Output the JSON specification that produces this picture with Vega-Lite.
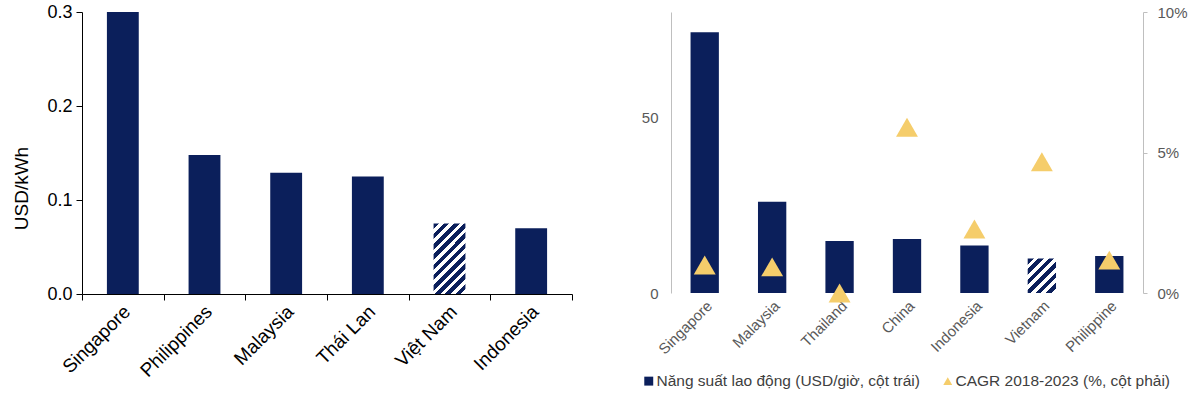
{
  "$schema": "https://vega.github.io/schema/vega-lite/v6.json",
  "background": "white",
  "padding": {"left": 12, "top": 3, "right": 5, "bottom": 0},
  "config": {"font": "Liberation Sans", "view": {"stroke": null}},
  "bounds": "flush",
  "spacing": 99,
  "resolve": {"legend": {"color": "independent"}, "scale": {"color": "independent"}},
  "hconcat": [
    {
      "width": 490,
      "height": 282,
      "data": {
        "values": [
          {"country": "Singapore", "price": 0.3},
          {"country": "Philippines", "price": 0.148},
          {"country": "Malaysia", "price": 0.129},
          {"country": "Thái Lan", "price": 0.125},
          {"country": "Việt Nam", "price": 0.075},
          {"country": "Indonesia", "price": 0.07}
        ]
      },
      "encoding": {
        "y": {
          "field": "price",
          "type": "quantitative",
          "scale": {"domain": [0, 0.3]},
          "axis": {
            "values": [0, 0.1, 0.2, 0.3],
            "format": ".1f",
            "grid": false,
            "domainColor": "black",
            "tickColor": "black",
            "tickSize": 6,
            "labelColor": "black",
            "labelFontSize": 18,
            "labelPadding": 4,
            "title": "USD/kWh",
            "titleFontSize": 19,
            "titleFontWeight": "normal",
            "titleColor": "black",
            "titlePadding": 15,
            "titleY": 176
          }
        }
      },
      "layer": [
        {
          "transform": [{"filter": "datum.country != 'Việt Nam'"}],
          "mark": {"type": "bar", "color": "#0B1F5B"},
          "encoding": {
            "x": {
              "field": "country",
              "type": "nominal",
              "sort": null,
              "scale": {
                "domain": ["Singapore", "Philippines", "Malaysia", "Thái Lan", "Việt Nam", "Indonesia"],
                "paddingInner": 0.61,
                "paddingOuter": 0.305
              },
              "axis": {
                "orient": "bottom",
                "title": null,
                "domain": false,
                "ticks": false,
                "labelAngle": -45,
                "labelColor": "black",
                "labelFontSize": 19,
                "labelPadding": 8,
                "labelOffset": -2
              }
            }
          }
        },
        {
          "transform": [{"filter": "datum.country == 'Việt Nam'"}],
          "encoding": {
            "x": {
              "field": "country",
              "type": "nominal",
              "sort": null,
              "scale": {
                "domain": ["Singapore", "Philippines", "Malaysia", "Thái Lan", "Việt Nam", "Indonesia"],
                "paddingInner": 0.61,
                "paddingOuter": 0.305
              },
              "axis": null
            }
          },
          "mark": {
            "type": "bar",
            "color": {
              "gradient": "linear",
              "x1": 0, "y1": 0, "x2": 0.5455, "y2": 1.2056,
              "stops": [
                {"offset": 0, "color": "#0B1F5B"}, {"offset": 0.055, "color": "#0B1F5B"},
                {"offset": 0.055, "color": "#ffffff"}, {"offset": 0.1, "color": "#ffffff"},
                {"offset": 0.1, "color": "#0B1F5B"}, {"offset": 0.155, "color": "#0B1F5B"},
                {"offset": 0.155, "color": "#ffffff"}, {"offset": 0.2, "color": "#ffffff"},
                {"offset": 0.2, "color": "#0B1F5B"}, {"offset": 0.255, "color": "#0B1F5B"},
                {"offset": 0.255, "color": "#ffffff"}, {"offset": 0.3, "color": "#ffffff"},
                {"offset": 0.3, "color": "#0B1F5B"}, {"offset": 0.355, "color": "#0B1F5B"},
                {"offset": 0.355, "color": "#ffffff"}, {"offset": 0.4, "color": "#ffffff"},
                {"offset": 0.4, "color": "#0B1F5B"}, {"offset": 0.455, "color": "#0B1F5B"},
                {"offset": 0.455, "color": "#ffffff"}, {"offset": 0.5, "color": "#ffffff"},
                {"offset": 0.5, "color": "#0B1F5B"}, {"offset": 0.555, "color": "#0B1F5B"},
                {"offset": 0.555, "color": "#ffffff"}, {"offset": 0.6, "color": "#ffffff"},
                {"offset": 0.6, "color": "#0B1F5B"}, {"offset": 0.655, "color": "#0B1F5B"},
                {"offset": 0.655, "color": "#ffffff"}, {"offset": 0.7, "color": "#ffffff"},
                {"offset": 0.7, "color": "#0B1F5B"}, {"offset": 0.755, "color": "#0B1F5B"},
                {"offset": 0.755, "color": "#ffffff"}, {"offset": 0.8, "color": "#ffffff"},
                {"offset": 0.8, "color": "#0B1F5B"}, {"offset": 0.855, "color": "#0B1F5B"},
                {"offset": 0.855, "color": "#ffffff"}, {"offset": 0.9, "color": "#ffffff"},
                {"offset": 0.9, "color": "#0B1F5B"}, {"offset": 0.955, "color": "#0B1F5B"},
                {"offset": 0.955, "color": "#ffffff"}, {"offset": 1, "color": "#ffffff"}
              ]
            }
          }
        },
        {
          "mark": {"type": "bar", "opacity": 0},
          "encoding": {
            "x": {
              "field": "country",
              "type": "nominal",
              "sort": null,
              "scale": {
                "domain": ["Singapore", "Philippines", "Malaysia", "Thái Lan", "Việt Nam", "Indonesia"],
                "paddingInner": 0,
                "paddingOuter": 0
              },
              "axis": {
                "orient": "bottom",
                "title": null,
                "domainColor": "black",
                "tickColor": "black",
                "tickSize": 6,
                "tickBand": "extent",
                "labels": false
              }
            }
          }
        }
      ],
      "resolve": {"scale": {"x": "independent"}, "axis": {"x": "independent"}}
    },
    {
      "width": 472,
      "height": 281,
      "data": {
        "values": [
          {"country": "Singapore", "prod": 74.2, "cagr": 1.0},
          {"country": "Malaysia", "prod": 26, "cagr": 0.93},
          {"country": "Thailand", "prod": 14.8, "cagr": 0.0},
          {"country": "China", "prod": 15.4, "cagr": 5.9},
          {"country": "Indonesia", "prod": 13.5, "cagr": 2.28},
          {"country": "Vietnam", "prod": 9.8, "cagr": 4.67},
          {"country": "Philippine", "prod": 10.5, "cagr": 1.17}
        ]
      },
      "encoding": {
        "x": {
          "field": "country",
          "type": "nominal",
          "sort": null,
          "scale": {
            "domain": ["Singapore", "Malaysia", "Thailand", "China", "Indonesia", "Vietnam", "Philippine"],
            "paddingInner": 0.58,
            "paddingOuter": 0.29
          },
          "axis": {
            "title": null,
            "domain": false,
            "ticks": false,
            "labelAngle": -45,
            "labelColor": "#595959",
            "labelFontSize": 15,
            "labelPadding": 5
          }
        }
      },
      "layer": [
        {
          "encoding": {
            "y": {
              "field": "prod",
              "type": "quantitative",
              "scale": {"domain": [0, 80]},
              "axis": {
                "orient": "left",
                "values": [0, 50],
                "grid": false,
                "domainColor": "#bfbfbf",
                "ticks": false,
                "labelColor": "#595959",
                "labelFontSize": 15,
                "labelPadding": 13,
                "title": null
              }
            }
          },
          "layer": [
            {
              "transform": [{"filter": "datum.country != 'Vietnam'"}],
              "mark": {"type": "bar"},
              "encoding": {
                "color": {
                  "datum": "Năng suất lao động (USD/giờ, cột trái)",
                  "scale": {
                    "domain": ["Năng suất lao động (USD/giờ, cột trái)", "CAGR 2018-2023 (%, cột phải)"],
                    "range": ["#0B1F5B", "#F5CD6B"]
                  },
                  "legend": {
                    "orient": "none",
                    "legendX": -30,
                    "legendY": 361,
                    "direction": "horizontal",
                    "title": null,
                    "labelFontSize": 15.5,
                    "labelColor": "#404040",
                    "labelLimit": 400,
                    "symbolSize": 80,
                    "symbolOpacity": 1,
                    "symbolStrokeWidth": 0,
                    "columnPadding": 20,
                    "labelOffset": 0,
                    "encode": {
                      "symbols": {
                        "update": {
                          "shape": {"signal": "indexof(datum.label, 'CAGR') >= 0 ? 'triangle-up' : 'square'"}
                        }
                      }
                    }
                  }
                }
              }
            },
            {
              "transform": [{"filter": "datum.country == 'Vietnam'"}],
              "mark": {
                "type": "bar",
                "color": {
                  "gradient": "linear",
                  "x1": 0, "y1": 0, "x2": 0.8942, "y2": 1.0869,
                  "stops": [
                    {"offset": 0, "color": "#0B1F5B"}, {"offset": 0.0917, "color": "#0B1F5B"},
                    {"offset": 0.0917, "color": "#ffffff"}, {"offset": 0.1667, "color": "#ffffff"},
                    {"offset": 0.1667, "color": "#0B1F5B"}, {"offset": 0.2583, "color": "#0B1F5B"},
                    {"offset": 0.2583, "color": "#ffffff"}, {"offset": 0.3333, "color": "#ffffff"},
                    {"offset": 0.3333, "color": "#0B1F5B"}, {"offset": 0.425, "color": "#0B1F5B"},
                    {"offset": 0.425, "color": "#ffffff"}, {"offset": 0.5, "color": "#ffffff"},
                    {"offset": 0.5, "color": "#0B1F5B"}, {"offset": 0.5917, "color": "#0B1F5B"},
                    {"offset": 0.5917, "color": "#ffffff"}, {"offset": 0.6667, "color": "#ffffff"},
                    {"offset": 0.6667, "color": "#0B1F5B"}, {"offset": 0.7583, "color": "#0B1F5B"},
                    {"offset": 0.7583, "color": "#ffffff"}, {"offset": 0.8333, "color": "#ffffff"},
                    {"offset": 0.8333, "color": "#0B1F5B"}, {"offset": 0.925, "color": "#0B1F5B"},
                    {"offset": 0.925, "color": "#ffffff"}, {"offset": 1, "color": "#ffffff"}
                  ]
                }
              }
            }
          ]
        },
        {
          "mark": {"type": "point", "shape": "triangle-up", "filled": true, "size": 480, "opacity": 1},
          "encoding": {
            "y": {
              "field": "cagr",
              "type": "quantitative",
              "scale": {"domain": [0, 10]},
              "axis": {
                "orient": "right",
                "values": [0, 5, 10],
                "labelExpr": "datum.value + '%'",
                "grid": false,
                "domainColor": "#bfbfbf",
                "tickColor": "#bfbfbf",
                "tickSize": 4,
                "labelColor": "#595959",
                "labelFontSize": 15,
                "labelPadding": 10,
                "title": null
              }
            },
            "color": {"datum": "CAGR 2018-2023 (%, cột phải)"}
          }
        }
      ],
      "resolve": {"scale": {"y": "independent"}}
    }
  ]
}
